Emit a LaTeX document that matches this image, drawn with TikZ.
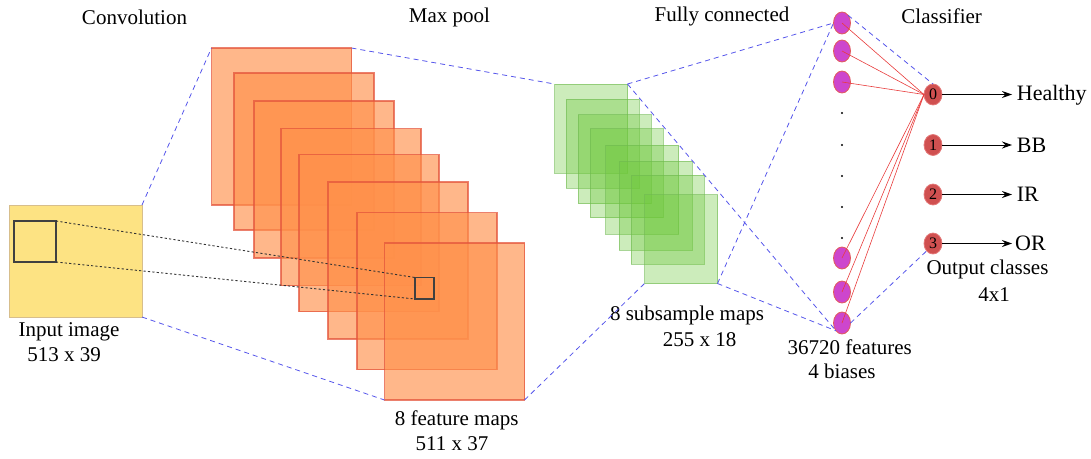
\documentclass[tikz,border=0pt]{standalone}
\usepackage{fontspec}
\setmainfont{Liberation Serif}
\usetikzlibrary{shapes.geometric,arrows.meta}
\definecolor{orfill}{RGB}{255,145,75}
\definecolor{ordraw}{RGB}{228,85,60}
\definecolor{grfill}{RGB}{110,200,60}
\definecolor{grdraw}{RGB}{110,185,80}
\definecolor{yelfill}{RGB}{253,227,131}
\definecolor{yeldraw}{RGB}{215,190,140}
\definecolor{blueline}{RGB}{85,85,235}
\definecolor{redline}{RGB}{232,60,60}
\definecolor{neufill}{RGB}{205,70,205}
\definecolor{neudraw}{RGB}{225,90,90}
\definecolor{outfill}{RGB}{208,80,80}
\definecolor{outdraw}{RGB}{228,120,120}
\tikzset{
  txt/.style={inner sep=0pt, font=\fontsize{21}{25}\selectfont},
  clstxt/.style={inner sep=0pt, font=\fontsize{22}{26}\selectfont},
  ormap/.style={rectangle, anchor=north west, minimum width=140pt, minimum height=157pt, inner sep=0pt, outer sep=0pt,
    fill=orfill, fill opacity=0.65, draw=ordraw, draw opacity=0.75, line width=1.2pt},
  grmap/.style={rectangle, anchor=north west, minimum width=73pt, minimum height=89pt, inner sep=0pt, outer sep=0pt,
    fill=grfill, fill opacity=0.35, draw=grdraw, draw opacity=0.6, line width=1pt},
  bluedash/.style={draw=blueline, line width=0.8pt, dash pattern=on 5pt off 4pt},
  blackdot/.style={draw=black!80, line width=0.9pt, dash pattern=on 2.2pt off 2.2pt},
  redconn/.style={draw=redline, line width=0.6pt},
  neuron/.style={ellipse, minimum width=17pt, minimum height=22pt, inner sep=0pt, outer sep=0pt,
    fill=neufill, draw=neudraw, line width=0.8pt},
  outneuron/.style={ellipse, minimum width=18pt, minimum height=21pt, inner sep=0pt, outer sep=0pt,
    fill=outfill, draw=outdraw, line width=0.8pt, font=\fontsize{16}{18}\selectfont},
  outarrow/.style={draw=black, line width=1pt, -{Stealth[length=10pt,width=7pt]}},
  dotnode/.style={circle, fill=black, minimum size=2.4pt, inner sep=0pt}
}
\begin{document}
\begin{tikzpicture}[x=1pt,y=-1pt]
\useasboundingbox (0,0) rectangle (1091,458);

% titles
\node[txt] (tconv) at (134.5,17) {Convolution};
\node[txt] (tpool) at (449.5,17) {Max pool};
\node[txt] (tfc) at (722,16) {Fully connected};
\node[txt] (tcls) at (941.7,16) {Classifier};

% input image
\node[rectangle, anchor=north west, minimum width=133pt, minimum height=112pt, inner sep=0pt, outer sep=0pt,
  fill=yelfill, draw=yeldraw, line width=1pt] (inp) at (9,205) {};
\node[rectangle, anchor=north west, minimum width=42pt, minimum height=41pt, inner sep=0pt, outer sep=0pt,
  draw=black!75, line width=1.2pt] (win) at (14,221) {};
\node[txt] (inl1) at (69,332) {Input image};
\node[txt] (inl2) at (64,355) {513 x 39};

% feature maps
\node[ormap] (m1) at (211.5,48) {};
\node[ormap] (m2) at (234,73) {};
\node[ormap] (m3) at (254,101) {};
\node[ormap] (m4) at (281,128.5) {};
\node[ormap] (m5) at (299,154.5) {};
\node[ormap] (m6) at (328,182) {};
\node[ormap] (m7) at (357,212.5) {};
\node[ormap] (m8) at (384.5,243) {};
\node[rectangle, anchor=north west, minimum width=19pt, minimum height=21.5pt, inner sep=0pt, outer sep=0pt,
  draw=black!75, line width=1.2pt] (tgt) at (415,277.5) {};
\node[txt] (fml1) at (456.7,420) {8 feature maps};
\node[txt] (fml2) at (452,444) {511 x 37};

% subsample maps
\node[grmap] (g1) at (554.5,84) {};
\node[grmap] (g2) at (566,99) {};
\node[grmap] (g3) at (578,114.5) {};
\node[grmap] (g4) at (590,128.5) {};
\node[grmap] (g5) at (605.5,145) {};
\node[grmap] (g6) at (619,161) {};
\node[grmap] (g7) at (631,175) {};
\node[grmap] (g8) at (644.5,194.5) {};
\node[txt] (sml1) at (687,315) {8 subsample maps};
\node[txt] (sml2) at (699.5,340) {255 x 18};

% fully connected neurons
\node[neuron] (n1) at (842,23) {};
\node[neuron] (n2) at (842,51) {};
\node[neuron] (n3) at (842,82) {};
\node[neuron] (n4) at (842,258) {};
\node[neuron] (n5) at (842,292) {};
\node[neuron] (n6) at (842,323) {};
\node[dotnode] (d1) at (842,113) {};
\node[dotnode] (d2) at (842,145) {};
\node[dotnode] (d3) at (842,176) {};
\node[dotnode] (d4) at (842,207) {};
\node[dotnode] (d5) at (842,238) {};
\node[txt] (fcl1) at (849.7,347) {36720 features};
\node[txt] (fcl2) at (842,371) {4 biases};

% output neurons
\node[outneuron] (o0) at (933,94.5) {0};
\node[outneuron] (o1) at (933,145) {1};
\node[outneuron] (o2) at (933,194.5) {2};
\node[outneuron] (o3) at (933,243.5) {3};
\node[txt] (ocl1) at (987.5,269) {Output classes};
\node[txt] (ocl2) at (994,295) {4x1};

% class labels
\node[clstxt, anchor=west] (lh) at (1016.7,95) {Healthy};
\node[clstxt, anchor=west] (lbb) at (1016.7,145) {BB};
\node[clstxt, anchor=west] (lir) at (1016.7,194.5) {IR};
\node[clstxt, anchor=west] (lor) at (1015,243.5) {OR};
\coordinate (a0) at (1012,94.5);
\coordinate (a1) at (1012,145);
\coordinate (a2) at (1012,194.5);
\coordinate (a3) at (1012,243.5);
\draw[outarrow] (o0.east) -- (a0);
\draw[outarrow] (o1.east) -- (a1);
\draw[outarrow] (o2.east) -- (a2);
\draw[outarrow] (o3.east) -- (a3);

% blue dashed projections
\draw[bluedash] (inp.north east) -- (m1.north west);
\draw[bluedash] (inp.south east) -- (m8.south west);
\draw[bluedash] (m1.north east) -- (g1.north west);
\draw[bluedash] (m8.south east) -- (g8.south west);
\draw[bluedash] (g1.north east) -- (n1.west);
\draw[bluedash] (g1.north east) -- (n6.south west);
\draw[bluedash] (g8.south east) -- (n1.west);
\draw[bluedash] (g8.south east) -- (n6.south west);
\draw[bluedash] (n1.north east) -- (o0.north);
\draw[bluedash] (n6.east) -- (o3.south west);

% black dotted receptive field
\draw[blackdot] (win.north east) -- (tgt.north west);
\draw[blackdot] (win.south east) -- (tgt.south west);

% red connections
\foreach \n in {n1,n2,n3,n4,n5,n6}{
  \draw[redconn] (\n.center) -- (o0.west);
}
\end{tikzpicture}
\end{document}
